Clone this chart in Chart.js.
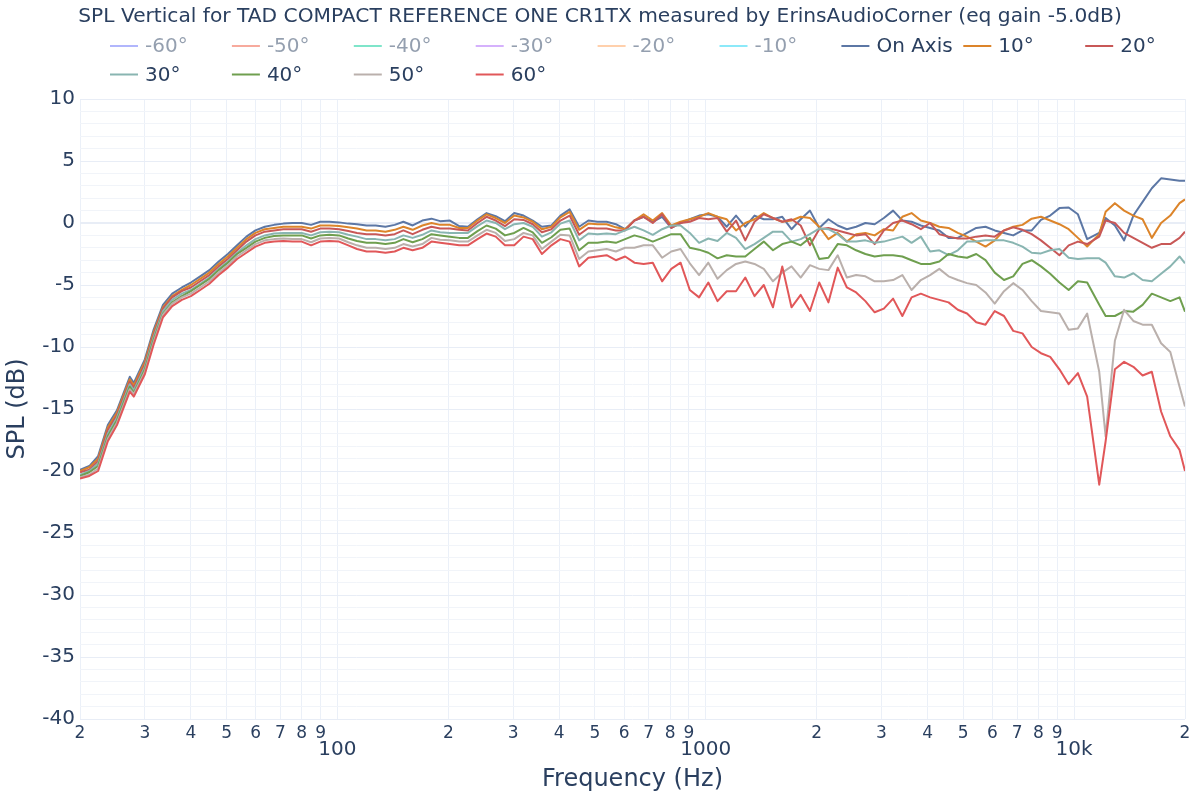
<!DOCTYPE html>
<html lang="en">
  <head>
    <meta charset="UTF-8" />
    <title>SPL Vertical</title>
    <script src="https://cdn.jsdelivr.net/npm/chart.js@4.4.1/dist/chart.umd.min.js"></script>
    <style>
      body { margin: 0; background: #fff; }
    </style>
  </head>
  <body>
    <canvas id="spl-chart" width="1200" height="800"></canvas>

    <script>
      // frequencies (Hz), roughly 1/12 octave
      const freqs = [
        20, 21.2, 22.4, 23.8, 25.2, 27.3, 28.0, 30, 31.7, 33.6, 35.6, 37.8,
        40, 42.4, 44.9, 47.6, 50.4, 53.4, 56.6, 59.9, 63.5, 67.3, 71.3, 75.5,
        80, 84.8, 89.8, 95.1, 101, 107, 113, 120, 127, 135, 143, 151,
        160, 170, 180, 190, 202, 214, 226, 240, 254, 269, 285, 302,
        320, 339, 359, 381, 403, 427, 453, 480, 508, 538, 570, 604,
        640, 678, 718, 761, 806, 854, 905, 959, 1016, 1076, 1140, 1208,
        1280, 1356, 1437, 1522, 1613, 1709, 1810, 1918, 2032, 2153, 2281, 2416,
        2560, 2712, 2874, 3044, 3225, 3417, 3620, 3836, 4064, 4305, 4561, 4833,
        5120, 5424, 5747, 6089, 6451, 6834, 7241, 7671, 8127, 8611, 9123, 9665,
        10240, 10849, 11700, 12177, 12902, 13669, 14482, 15343, 16255, 17222, 18246, 19331,
        20000
      ];

      const onAxis = [
        -19.9, -19.6, -18.8, -16.3, -15.1, -12.4, -12.9, -11.0, -8.6, -6.6, -5.7, -5.2,
        -4.8, -4.3, -3.8, -3.1, -2.5, -1.8, -1.1, -0.6, -0.3, -0.15, -0.05, 0.0,
        0.0, -0.15, 0.1, 0.1, 0.05, -0.05, -0.1, -0.2, -0.2, -0.3, -0.15, 0.1,
        -0.2, 0.2, 0.35, 0.15, 0.2, -0.25, -0.3, 0.3, 0.8, 0.55, 0.15, 0.8,
        0.6, 0.2, -0.3, -0.2, 0.6, 1.1, -0.3, 0.2, 0.1, 0.1, -0.1, -0.5,
        0.2, 0.5, 0.1, 0.5, -0.4, 0.0, 0.3, 0.6, 0.7, 0.5, -0.3, 0.6,
        -0.3, 0.6, 0.3, 0.3, 0.5, -0.5, 0.3, 1.0, -0.4, 0.3, -0.2, -0.5,
        -0.3, 0.0, -0.1, 0.4, 1.0, 0.2, 0.1, -0.2, -0.4, -0.6, -1.2, -1.2,
        -0.8, -0.4, -0.3, -0.6, -0.8, -1.0, -0.6, -0.6, 0.25, 0.6, 1.2, 1.25,
        0.7, -1.3, -0.8, 0.4, -0.2, -1.4, 0.6, 1.7, 2.8, 3.6, 3.5, 3.4,
        3.4
      ];
      const deg10 = [
        -20.0, -19.7, -19.0, -16.5, -15.3, -12.6, -13.1, -11.2, -8.8, -6.8, -5.9, -5.4,
        -5.0, -4.5, -4.0, -3.3, -2.7, -2.0, -1.3, -0.8, -0.5, -0.4, -0.3, -0.3,
        -0.3, -0.45, -0.2, -0.2, -0.25, -0.35, -0.45, -0.6, -0.6, -0.7, -0.55, -0.3,
        -0.55, -0.2, 0.0, -0.15, -0.15, -0.4, -0.4, 0.2, 0.7, 0.4, 0.0, 0.6,
        0.45, 0.1, -0.5, -0.3, 0.45, 0.9, -0.55, -0.05, -0.1, -0.1, -0.35, -0.5,
        0.2, 0.7, 0.2, 0.8, -0.2, 0.1, 0.3, 0.5, 0.8, 0.5, 0.3, -0.6,
        0.0, 0.3, 0.8, 0.4, 0.1, 0.2, 0.5, 0.4, -0.3, -1.3, -0.8, -1.5,
        -0.9, -0.8, -1.0, -0.5, -0.6, 0.5, 0.8, 0.2, 0.0, -0.3, -0.4, -0.8,
        -1.1, -1.5, -1.9, -1.4, -0.6, -0.3, -0.15, 0.35, 0.5, 0.2, -0.1, -0.5,
        -1.2, -1.9, -0.9, 0.9, 1.6, 1.0, 0.6, 0.3, -1.2, 0.0, 0.6, 1.6,
        1.9
      ];
      const deg20 = [
        -20.1, -19.9, -19.2, -16.7, -15.5, -12.8, -13.3, -11.4, -9.0, -6.9, -6.0, -5.5,
        -5.2, -4.7, -4.2, -3.5, -2.9, -2.2, -1.5, -1.0, -0.7, -0.6, -0.5, -0.5,
        -0.5, -0.7, -0.45, -0.45, -0.5, -0.65, -0.8, -0.9, -0.9, -1.0, -0.9, -0.6,
        -0.9, -0.55, -0.3, -0.45, -0.45, -0.55, -0.6, 0.0, 0.5, 0.2, -0.25, 0.3,
        0.25, -0.1, -0.75, -0.5, 0.2, 0.6, -0.95, -0.4, -0.45, -0.45, -0.6, -0.6,
        0.2, 0.5, 0.0, 0.7, -0.4, 0.0, 0.1, 0.4, 0.3, 0.4, -0.7, 0.2,
        -1.4, 0.1, 0.7, 0.4, 0.1, 0.3, -0.2, -1.8, -0.5, -0.4, -0.6, -0.8,
        -1.0, -0.9, -1.7, -0.6, 0.0, 0.2, -0.1, -0.5, 0.0, -0.9, -1.1, -1.25,
        -1.25, -1.1, -1.0, -1.1, -0.6, -0.35, -0.55, -0.9, -1.4, -2.0, -2.6, -1.8,
        -1.5, -1.7, -1.1, 0.2, 0.0, -0.8, -1.2, -1.6, -2.0, -1.7, -1.7, -1.2,
        -0.7
      ];
      const deg30 = [
        -20.3, -20.0, -19.4, -17.0, -15.7, -13.0, -13.5, -11.6, -9.2, -7.1, -6.2, -5.7,
        -5.4, -4.9, -4.4, -3.7, -3.1, -2.4, -1.8, -1.3, -1.0, -0.85, -0.8, -0.8,
        -0.8, -1.0, -0.75, -0.7, -0.75, -0.95, -1.1, -1.3, -1.3, -1.4, -1.3, -1.0,
        -1.2, -0.95, -0.6, -0.75, -0.8, -0.8, -0.8, -0.25, 0.2, 0.0, -0.5, -0.1,
        0.0, -0.3, -1.1, -0.75, -0.05, 0.2, -1.4, -0.85, -0.9, -0.85, -0.9, -0.6,
        -0.3, -0.6, -0.95, -0.5, -0.2, -0.2, -0.8, -1.6, -1.25, -1.45, -0.8, -1.2,
        -2.1, -1.7, -1.2, -0.7, -0.7, -1.5, -1.3, -0.9, -0.45, -0.5, -0.9, -1.5,
        -1.5, -1.4, -1.6, -1.5, -1.3, -1.1, -1.6, -1.1, -2.3, -2.2, -2.6, -2.2,
        -1.5, -1.5, -1.4, -1.4, -1.4, -1.6, -1.9, -2.4, -2.45, -2.2, -2.1, -2.8,
        -2.9, -2.85, -2.85, -3.2, -4.3, -4.4, -4.05, -4.6, -4.7, -4.1, -3.5, -2.7,
        -3.25
      ];
      const deg40 = [
        -20.4, -20.1, -19.6, -17.2, -15.9, -13.2, -13.7, -11.8, -9.4, -7.3, -6.4, -5.9,
        -5.5, -5.0, -4.5, -3.8, -3.2, -2.5, -2.0, -1.5, -1.2, -1.05, -1.0, -1.0,
        -1.0, -1.25, -1.0, -0.95, -1.0, -1.25, -1.45, -1.6, -1.6, -1.7, -1.6, -1.3,
        -1.55, -1.3, -0.9, -1.0, -1.1, -1.2, -1.2, -0.65, -0.2, -0.45, -1.0, -0.8,
        -0.4, -0.75, -1.6, -1.15, -0.55, -0.45, -2.2, -1.6, -1.6, -1.5, -1.6, -1.3,
        -1.0, -1.2, -1.5, -1.2, -0.9, -0.9, -2.0, -2.15, -2.4, -2.85, -2.6, -2.7,
        -2.7, -2.1, -1.5, -2.2, -1.7, -1.5, -1.8, -1.2, -2.9, -2.8, -1.7, -1.8,
        -2.2, -2.5, -2.7, -2.6, -2.6, -2.7, -3.0, -3.3, -3.3, -3.1, -2.5, -2.7,
        -2.8, -2.5, -3.0, -4.0, -4.6, -4.3, -3.3, -3.0, -3.5, -4.1, -4.8, -5.4,
        -4.7, -4.8, -6.6, -7.5, -7.5, -7.1, -7.15, -6.6, -5.7, -6.0, -6.3, -6.0,
        -7.15
      ];
      const deg50 = [
        -20.5, -20.3, -19.8, -17.4, -16.1, -13.4, -13.8, -12.0, -9.6, -7.4, -6.5, -6.0,
        -5.7, -5.2, -4.7, -4.0, -3.4, -2.7, -2.2, -1.7, -1.4, -1.3, -1.25, -1.3,
        -1.3, -1.55, -1.25, -1.2, -1.25, -1.55, -1.8, -2.0, -2.0, -2.1, -2.0, -1.7,
        -1.9, -1.7, -1.2, -1.35, -1.4, -1.5, -1.5, -1.0, -0.55, -0.8, -1.45, -1.3,
        -0.8, -1.0, -2.1, -1.5, -0.95, -1.0, -2.9, -2.3, -2.2, -2.1, -2.3, -2.0,
        -2.0, -1.8, -1.8, -2.8, -2.3, -2.1, -3.25, -4.2, -3.2, -4.5, -3.8, -3.3,
        -3.1, -3.3, -3.7, -4.7, -4.0, -3.5, -4.4, -3.4, -3.7, -3.8, -2.6, -4.4,
        -4.2, -4.3, -4.7, -4.7, -4.6, -4.2, -5.4, -4.6, -4.2, -3.7, -4.3, -4.6,
        -4.85, -5.0, -5.6, -6.5, -5.5, -4.85, -5.4, -6.3, -7.1, -7.2, -7.3, -8.6,
        -8.5, -7.3, -12.0, -17.2, -9.5, -7.0, -7.9, -8.2, -8.2, -9.7, -10.4, -13.2,
        -14.8
      ];
      const deg60 = [
        -20.6, -20.4, -20.0, -17.6, -16.3, -13.6, -14.0, -12.2, -9.8, -7.6, -6.7, -6.2,
        -5.9, -5.4, -4.9, -4.2, -3.6, -2.9, -2.4, -1.9, -1.6, -1.5, -1.45, -1.5,
        -1.5, -1.8, -1.5, -1.45, -1.5, -1.8, -2.1, -2.3, -2.3, -2.4, -2.3, -2.0,
        -2.2, -2.0, -1.5, -1.6, -1.7, -1.8, -1.8, -1.3, -0.85, -1.1, -1.8, -1.8,
        -1.1, -1.3, -2.5, -1.8, -1.3, -1.5, -3.5, -2.8, -2.7, -2.6, -3.0, -2.7,
        -3.2, -3.3, -3.2, -4.7, -3.7, -3.2, -5.4, -6.0, -4.8, -6.3, -5.5, -5.5,
        -4.4, -5.9, -5.0, -6.8, -3.5, -6.8, -5.8, -7.1, -4.8, -6.4, -3.6, -5.2,
        -5.6, -6.3, -7.2, -6.9, -6.1, -7.5, -6.0, -5.7, -6.0, -6.2, -6.4, -7.0,
        -7.3, -8.0, -8.2, -7.1, -7.5, -8.7, -8.9, -10.0, -10.5, -10.8, -11.8, -13.0,
        -12.1, -14.0, -21.1, -17.6, -11.8, -11.2, -11.6, -12.3, -12.0, -15.2, -17.2, -18.3,
        -20.0
      ];

      // legend-only traces (no curve shown)
      const hiddenNames = ["-60°", "-50°", "-40°", "-30°", "-20°", "-10°"];
      const hiddenColors = ["#636efa", "#ef553b", "#00cc96", "#ab63fa", "#ffa15a", "#19d3f3"];

      const seriesNames = ["On Axis", "10°", "20°", "30°", "40°", "50°", "60°"];
      const seriesValues = [onAxis, deg10, deg20, deg30, deg40, deg50, deg60];
      const seriesColors = ["#5c77a5", "#dc842a", "#c85857", "#89b5b1", "#6f9f4f", "#bab0ac", "#e15759"];

      const xTickValues = [
        20, 30, 40, 50, 60, 70, 80, 90, 100, 200, 300, 400, 500, 600, 700, 800, 900,
        1000, 2000, 3000, 4000, 5000, 6000, 7000, 8000, 9000, 10000, 20000
      ];
      const xTickLabels = [
        "2", "3", "4", "5", "6", "7", "8", "9", "100", "2", "3", "4", "5", "6", "7", "8", "9",
        "1000", "2", "3", "4", "5", "6", "7", "8", "9", "10k", "2"
      ];

      const titleText = "SPL Vertical for TAD COMPACT REFERENCE ONE CR1TX measured by ErinsAudioCorner (eq gain -5.0dB)";
      const textColor = "#2a3f5f";
      const fontFamily = "'DejaVu Sans', Verdana, sans-serif";

      Chart.defaults.font.family = fontFamily;
      Chart.defaults.color = textColor;

      const datasets = [];
      hiddenNames.forEach((name, i) => {
        datasets.push({
          label: name,
          data: [],
          borderColor: hiddenColors[i],
          legendOnly: true
        });
      });
      seriesNames.forEach((name, i) => {
        datasets.push({
          label: name,
          data: seriesValues[i].map((v, j) => ({ x: freqs[j], y: v })),
          borderColor: seriesColors[i],
          backgroundColor: seriesColors[i],
          borderWidth: 2,
          pointRadius: 0,
          tension: 0,
          borderJoinStyle: "round",
          order: 20 - i // later traces on top, like plotly
        });
      });

      // title + plotly-like legend grid (9 columns)
      const headerPlugin = {
        id: "header",
        afterDraw(chart) {
          const ctx = chart.ctx;
          ctx.save();
          ctx.textBaseline = "middle";
          ctx.fillStyle = textColor;
          ctx.font = "20.2px " + fontFamily;
          ctx.textAlign = "center";
          ctx.fillText(titleText, 600, 17);

          ctx.font = "20px " + fontFamily;
          ctx.textAlign = "left";
          chart.data.datasets.forEach((ds, i) => {
            const col = i % 9;
            const row = Math.floor(i / 9);
            const x = 110 + col * 121.9;
            const y = row === 0 ? 46 : 74.5;
            ctx.globalAlpha = ds.legendOnly ? 0.5 : 1;
            ctx.strokeStyle = ds.borderColor;
            ctx.lineWidth = 2;
            ctx.beginPath();
            ctx.moveTo(x, y);
            ctx.lineTo(x + 28, y);
            ctx.stroke();
            ctx.fillStyle = textColor;
            ctx.fillText(ds.label, x + 35, y + 1);
          });
          ctx.restore();
        }
      };

      new Chart(document.getElementById("spl-chart"), {
        type: "line",
        data: { datasets: datasets },
        options: {
          responsive: false,
          animation: false,
          devicePixelRatio: 1,
          layout: { padding: { top: 99, right: 15, bottom: 0, left: 0 } },
          plugins: {
            legend: { display: false },
            title: { display: false },
            tooltip: { enabled: false }
          },
          scales: {
            x: {
              type: "logarithmic",
              min: 20,
              max: 20000,
              afterBuildTicks: (axis) => {
                axis.ticks = xTickValues.map((v) => ({ value: v }));
              },
              afterFit: (scale) => { scale.height = 81; },
              border: { display: false },
              grid: { color: "#ebf0f8", drawTicks: false },
              ticks: {
                autoSkip: false,
                maxRotation: 0,
                minRotation: 0,
                padding: 4,
                color: textColor,
                font: (ctx) => {
                  const idx = xTickValues.indexOf(ctx.tick ? ctx.tick.value : -1);
                  const lbl = idx >= 0 ? xTickLabels[idx] : "";
                  return lbl.length > 1 ? { size: 20, lineHeight: 0.9 } : { size: 17, lineHeight: 1.2 };
                },
                callback: (value) => {
                  const idx = xTickValues.indexOf(value);
                  if (idx < 0) return "";
                  const lbl = xTickLabels[idx];
                  return lbl.length > 1 ? ["", lbl] : lbl;
                }
              },
              title: {
                display: true,
                text: "Frequency (Hz)",
                color: textColor,
                font: { size: 24 },
                padding: { top: 0, bottom: 6 }
              }
            },
            y: {
              min: -40,
              max: 10,
              afterFit: (scale) => { scale.width = 80; },
              border: { display: false },
              grid: {
                drawTicks: false,
                color: (ctx) => (ctx.tick && ctx.tick.value % 5 === 0 ? "#e8edf6" : "#f1f4f9"),
                lineWidth: (ctx) => (ctx.tick && ctx.tick.value === 0 ? 2 : 1)
              },
              ticks: {
                stepSize: 1,
                autoSkip: false,
                padding: 5,
                color: textColor,
                font: { size: 20 },
                callback: (value) => (value % 5 === 0 ? String(value) : "")
              },
              title: {
                display: true,
                text: "SPL (dB)",
                color: textColor,
                font: { size: 24 },
                padding: { top: 3, bottom: 0 }
              }
            }
          }
        },
        plugins: [headerPlugin]
      });
    </script>
  </body>
</html>
